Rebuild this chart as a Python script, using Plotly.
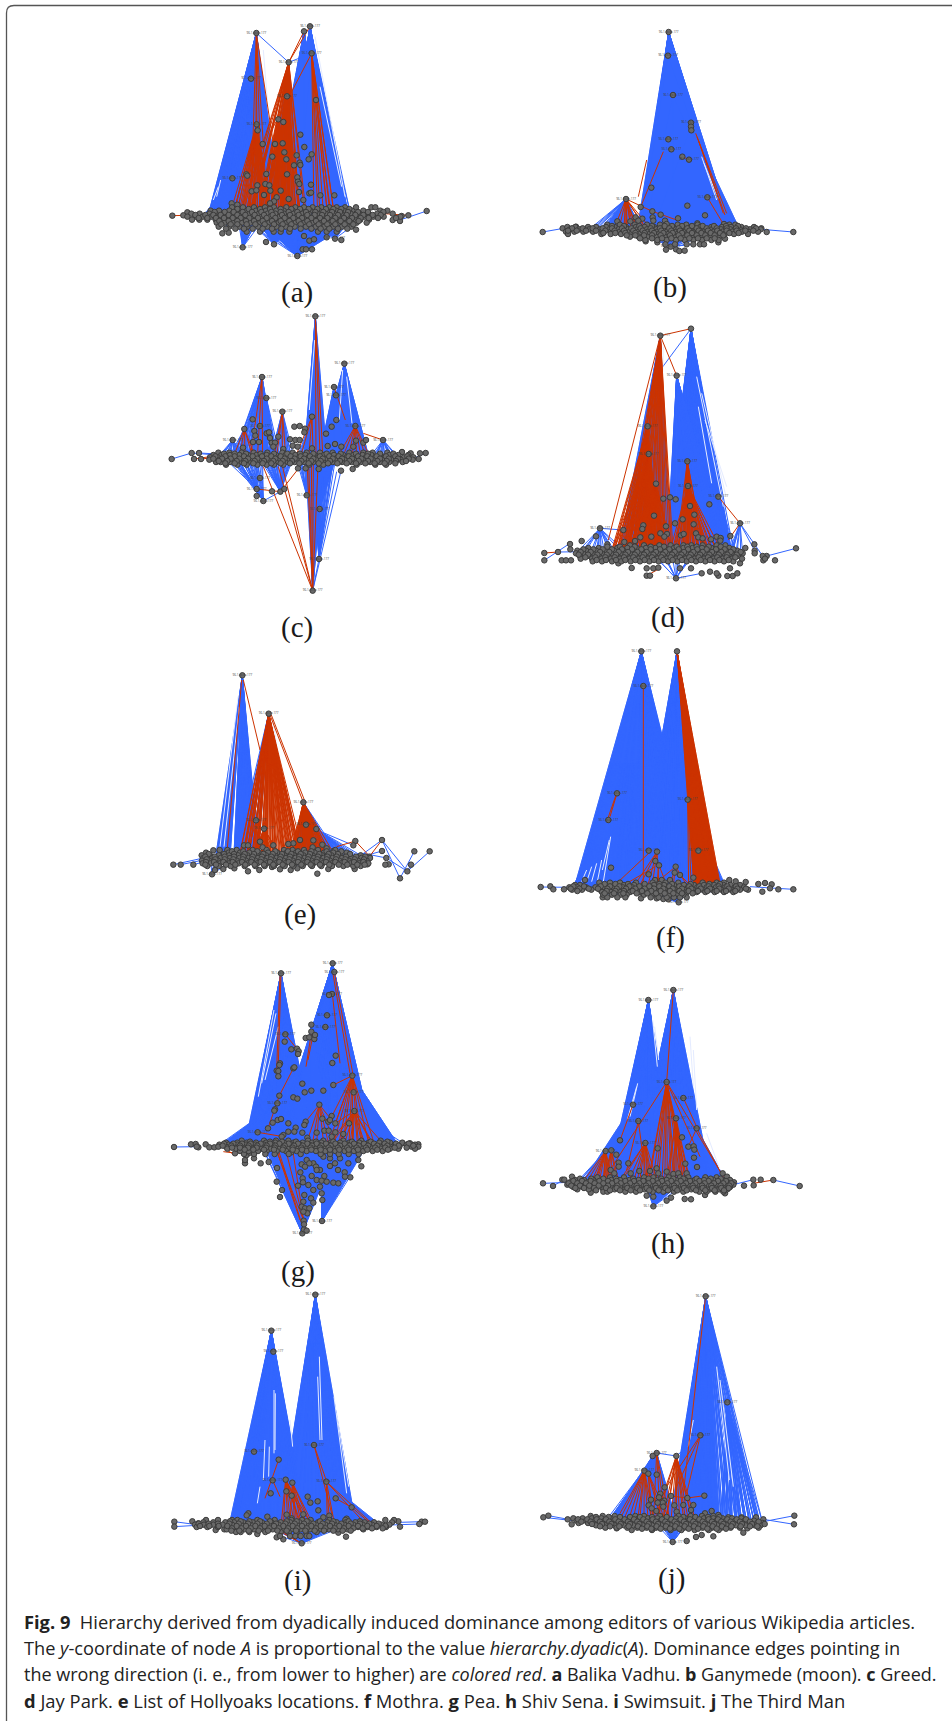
import plotly.graph_objects as go

PAGE_W, PAGE_H = 952, 1721
BLUE, RED = "#3366ff", "#cc3300"

# Fan tuples: (hub index, leftmost target x, rightmost target x, kind, step)
# kind: f = solid blue fan, b = blue lines, R = solid red fan, r = red lines

# ---------- panel a: Balika Vadhu ----------
a_hubs = [(319,99),(480,79),(462,94),(485,160),(416,187),(303,236),(411,289),(498,300),(320,373),(323,391),(385,358),(400,366),(442,768),(278,742),(372,733),(555,716),(247,535)]
a_upper = [(451,404),(338,432),(375,432),(398,430),(463,441),(403,457),(485,463),(367,470),(440,466),(409,478),(476,478),(432,496),(449,488),(451,495),(289,523),(292,527),(349,522),(411,523),(442,532),(444,545),(448,552),(346,552),(358,556),(322,556),(483,554),(305,574),(319,571),(361,572),(392,572),(447,576),(478,580),(483,578),(511,586),(553,586),(342,585),(416,597),(380,592),(372,604),(360,610),(460,600),(245,610),(262,614)]
a_outer = [(67,647),(830,633),(775,646),(112,637),(100,646),(348,726),(458,748),(468,748),(486,748),(574,720),(217,700),(236,698),(618,689),(750,663),(728,660),(755,648),(462,708),(478,722),(492,718),(530,712)]
a_row_y = [622,632,641,650,659,668,680,695,627,636,645,654,663,673,686]
a_row_x = [
 [246,279,312,345,372,409,436,462,488,514,538,560,585,618,664,676],
 [182,207,238,262,291,318,348,379,401,428,452,481,507,531,558,581,606,640,691,712],
 [124,149,178,196,223,247,271,298,327,353,376,402,431,457,476,503,527,552,574,602,628,655,682,728],
 [112,136,158,184,209,232,258,283,309,336,361,389,414,440,466,492,518,541,566,593,617,643,670,701,751],
 [126,148,172,197,219,244,269,295,322,347,372,399,425,450,478,503,529,556,579,604,631,657],
 [200,224,249,276,301,331,358,386,411,437,463,489,516,541,568,592,620,650],
 [206,238,268,292,324,352,379,407,434,468,497,523,549,576,604],
 [290,330,371,392,418,504,530,560],
 [262,296,330,360,392,424,450,476,502,528,550,574,598],
 [194,224,251,278,306,334,364,392,416,442,468,496,520,546,570,594,624,654,700],
 [136,166,190,212,236,262,286,314,342,368,396,420,446,472,494,516,540,564,590,616,640,668,692],
 [146,172,198,222,248,272,298,324,350,376,404,430,456,484,510,532,556,582,606,632,656,684,738],
 [208,236,262,288,312,338,366,392,418,446,472,498,522,548,572,598,626],
 [214,242,262,290,316,344,372,398,424,452,478,506,532,556,584,610],
 [228,256,282,308,338,366,394,420,452,484,512,538,564,592],
]
a_fans = [(0,170,392,"f",1),(1,380,600,"f",1),(2,360,560,"f",1),(3,440,600,"f",1),(7,470,590,"f",1),(4,350,440,"f",1),(12,320,560,"f",1),(13,265,325,"b",1),(14,320,420,"f",1),(15,490,610,"b",2),(16,150,260,"b",1),
 (4,270,470,"r",3),(8,240,370,"r",2),(6,340,450,"r",2),(10,330,430,"r",3),(3,490,560,"r",6),(0,300,370,"r",9)]
a_links = [(319,99,416,187,"b"),(319,99,370,430,"r"),(319,99,318,373,"r"),(462,94,416,187,"r"),(480,79,416,187,"r"),(416,187,485,160,"b"),(67,647,150,645,"r"),(830,633,750,660,"b"),(775,646,690,640,"r"),(485,160,360,400,"r"),(485,160,530,620,"r"),(498,300,540,620,"r")]
a_gaps = [(495,110,585,590),(510,260,575,560),(340,150,352,300),(205,560,190,600),(212,540,200,590)]

# ---------- panel b: Ganymede (moon) ----------
b_hubs = [(446,96),(444,167),(459,285),(513,368),(513,380),(514,391),(445,418),(454,448),(487,470),(507,479),(318,597),(452,740),(562,592)]
b_upper = [(394,563),(362,621),(502,617),(555,646),(397,634),(422,644),(398,652),(474,655),(435,662),(347,652),(367,656),(400,662),(331,664),(355,662),(292,664),(532,670),(498,676),(472,682),(440,672),(612,672)]
b_outer = [(68,696),(820,696),(128,685),(168,680),(740,696),(724,685),(438,749),(468,748),(478,753),(494,752),(595,727),(615,716),(412,727),(377,724)]
b_row_y = [674,681,688,695,702,710,720,733,678,685,692,699,706,715]
b_row_x = [
 [262,300,344,381,420,473,499,533,628,646],
 [142,166,204,228,258,284,318,348,374,402,432,459,486,512,541,574,606,633,664,702],
 [150,178,208,240,268,296,322,352,381,409,437,466,491,519,547,576,603,631,660,690,722],
 [138,163,190,219,245,272,300,329,356,384,412,441,469,495,524,551,581,608,637,666,685,714],
 [144,244,272,303,334,360,389,417,445,473,502,530,558,586,614,642,684],
 [330,356,382,408,434,462,488,515,543,570,598],
 [376,412,440,468,494,520,546,574,596],
 [436,465,500,520,540,552],
 [276,312,358,396,434,456,486,516,548,582,618,654],
 [156,188,218,248,276,306,334,362,392,420,448,476,502,530,560,590,620,648,678,708],
 [144,170,198,228,256,284,312,340,368,396,424,454,480,508,536,564,592,620,650,676,700],
 [250,286,316,346,374,402,430,458,486,516,544,572,600,628,656],
 [320,346,372,396,422,450,476,502,530,556,584,610],
 [360,396,426,454,482,508,534,560,584],
]
b_fans = [(0,350,640,"f",1),(1,360,630,"f",1),(2,370,640,"f",1),(4,400,655,"f",1),(10,205,262,"b",1),(10,262,365,"f",1),(11,390,530,"f",1),(12,560,660,"b",1),(10,280,392,"r",4)]
b_links = [(430,455,362,621,"r"),(535,420,610,640,"r"),(527,400,620,640,"r"),(531,410,615,645,"r"),(562,592,610,672,"r"),(487,470,507,479,"r"),(380,480,355,590,"r"),(318,597,397,634,"r"),(397,634,470,660,"r"),(68,696,125,686,"b"),(820,696,700,686,"b"),(318,597,322,680,"r"),(314,597,316,680,"r"),(322,597,330,670,"r")]
b_gaps = [(545,470,590,600),(552,490,596,600)]

# ---------- panel c: Greed ----------
c_hubs = [(496,49),(583,191),(552,261),(558,286),(336,231),(349,294),(397,335),(308,358),(486,350),(616,378),(699,420),(330,378),(283,387),(248,420),(488,872),(507,777),(509,627),(470,586),(340,603),(320,588),(320,567),(391,575),(403,567),(366,574),(330,534)]
c_upper = [(559,360),(545,380),(528,401),(433,380),(449,378),(465,386),(463,397),(313,393),(316,407),(350,400),(357,397),(385,410),(365,428),(375,428),(309,426),(327,426),(279,443),(420,418),(436,420),(449,420),(428,437),(443,440),(400,447),(486,445),(533,438),(555,432),(574,440),(618,422),(640,428),(648,420),(610,440),(360,414),(370,440),(573,512),(608,507),(506,507),(467,505),(444,505)]
c_outer = [(65,477),(125,459),(147,459),(132,477),(153,477),(827,459),(810,460),(782,460),(806,477),(756,456),(775,465)]
c_row_y = [458,465,472,479,486,494,461,469,476,483,490]
c_row_x = [
 [205,238,275,311,352,397,428,470,510,548,598,640,668,712],
 [190,214,240,268,294,320,350,378,407,436,466,494,522,552,580,610,638,664,692,718,745],
 [180,203,228,254,281,308,334,362,390,418,448,476,505,533,562,590,620,648,676,704,730,762,790],
 [178,199,222,248,274,300,328,356,384,412,440,470,498,527,556,584,612,640,669,697,724,752,788],
 [198,212,240,268,296,322,350,378,406,434,462,490,520,548,576,604,632,660,690,718,758],
 [228,262,290,322,350,372,400,478,520,620,676,708],
 [222,254,288,332,372,412,450,490,530,572,618,654,690,730],
 [196,226,254,282,308,336,364,392,422,452,480,510,538,566,596,624,652,680,708,736,772],
 [190,216,242,268,294,322,350,376,404,434,462,490,518,548,576,606,634,662,690,716,744,776],
 [206,232,260,286,314,342,370,398,426,454,484,512,540,570,598,626,654,682,710,738,768],
 [226,254,282,310,338,364,392,420,448,476,506,534,562,590,618,646,674,704,736],
]
c_fans = [(0,455,530,"f",1),(1,510,660,"f",1),(2,510,590,"f",1),(4,250,380,"b",1),(5,310,390,"b",1),(6,360,430,"b",1),(8,440,530,"b",1),(10,660,760,"b",2),(14,465,520,"f",1),(16,480,560,"f",1),(15,480,560,"b",1),(18,240,340,"b",2),(20,230,330,"b",2),(21,330,430,"b",1),(17,440,500,"b",1),(13,200,290,"b",2),(11,290,370,"b",1),(12,240,320,"b",2),(9,560,660,"b",3),
 (4,300,345,"r",7),(6,370,420,"r",5),(9,560,670,"r",5),(14,470,505,"r",3),(12,250,330,"r",7),(8,430,500,"r",7),(0,495,525,"r",4)]
c_links = [(395,490,488,872,"r"),(385,500,488,872,"r"),(340,500,488,872,"r"),(573,512,488,872,"b"),(560,515,488,872,"b"),(699,420,640,400,"r"),(320,567,391,575,"r"),(65,477,125,459,"b"),(125,459,200,465,"b"),(147,459,205,462,"b"),(132,477,200,467,"r"),(153,477,200,472,"r"),(827,459,790,475,"b"),(552,261,586,360,"r"),(391,575,450,500,"r"),(340,603,391,575,"b")]
c_gaps = [(578,210,568,360),(590,230,606,370),(494,120,478,330)]

# ---------- panel d: Jay Park ----------
d_hubs = [(421,77),(513,56),(470,197),(383,349),(386,432),(502,454),(504,528),(408,521),(595,560),(660,640),(240,655),(468,805)]
d_upper = [(430,566),(450,562),(467,568),(568,583),(510,588),(523,614),(402,617),(488,628),(465,640),(521,643),(438,649),(370,646),(367,657),(310,660),(228,679),(185,693),(150,702),(151,718),(703,703),(528,670),(535,682),(421,670),(441,672),(394,680),(433,680),(361,682),(345,693),(313,696),(262,703),(483,676),(491,672),(548,685),(573,688),(590,680),(602,684),(601,692),(631,678)]
d_outer = [(73,729),(73,751),(114,726),(125,751),(138,751),(153,751),(828,715),(765,751),(740,738),(730,751),(380,797),(390,797),(595,797),(590,790),(622,798),(638,798),(652,790),(545,790),(335,774),(295,760),(380,775),(400,775),(415,773),(480,775),(513,775),(630,775),(660,760),(570,785)]
d_row_y = [706,714,722,730,738,746,754,710,718,726,734,742,750]
d_row_x = [
 [330,372,418,452,490,514,548,590,616],
 [205,236,262,292,322,350,378,406,434,462,490,518,546,574,600,628,676],
 [172,198,228,254,282,310,338,366,394,422,450,478,506,534,562,590,618,652,704],
 [168,190,218,246,274,302,330,358,386,414,442,470,498,526,554,582,610,636,668,704],
 [180,208,236,264,292,320,348,376,404,432,460,488,516,544,572,600,628,654,728],
 [182,216,244,272,300,328,356,384,412,440,468,496,524,552,580,608,636,666,735],
 [218,246,276,304,332,360,388,416,444,472,500,528,556,584,612,640],
 [262,300,344,392,432,470,502,530,566,602],
 [190,220,248,276,306,336,364,392,420,448,476,504,532,560,588,614,640],
 [182,212,240,268,296,324,352,380,408,436,464,492,520,548,576,604,632,662],
 [176,204,232,260,288,316,344,372,400,428,456,484,512,540,568,596,622,650],
 [196,226,256,284,312,340,368,396,424,452,480,508,536,564,592,620,646],
 [230,258,288,316,346,374,402,430,458,486,514,542,570,598,626],
]
d_fans = [(1,430,640,"f",1),(2,440,625,"f",1),(0,300,450,"f",1),(8,570,650,"b",2),(9,620,745,"b",2),(10,130,310,"b",3),(11,400,540,"b",5),(5,560,620,"b",1),
 (0,310,460,"r",2),(3,270,420,"r",2),(4,270,440,"r",2),(7,310,460,"r",2),(5,470,560,"r",3),(6,450,600,"r",2)]
d_links = [(421,77,513,56,"r"),(421,77,470,197,"r"),(421,77,265,690,"r"),(513,56,421,180,"b"),(73,729,114,726,"r"),(114,726,200,725,"b"),(73,751,150,700,"b"),(828,715,740,738,"b"),(595,560,660,640,"r"),(660,640,625,690,"r"),(240,655,310,660,"b"),(468,805,545,790,"b"),(380,797,420,775,"r"),(502,454,504,528,"r")]
d_gaps = [(530,200,610,590),(545,250,618,560),(555,330,620,530),(430,110,425,300),(535,290,575,520)]

# ---------- panel e: List of Hollyoaks locations ----------
e_hubs = [(277,76),(356,191),(460,457),(318,511),(342,536),(468,524),(499,537),(186,673)]
e_upper = [(330,575),(282,586),(294,586),(370,586),(190,601),(209,600),(338,592),(450,570),(490,571),(517,584),(430,580),(415,582),(488,592),(530,595),(550,603),(616,573),(610,586),(696,570),(696,603),(793,604),(839,604),(709,624),(783,644),(772,664),(750,685),(716,643),(706,644),(658,620)]
e_outer = [(70,644),(92,644),(130,644),(195,660),(220,657),(294,664),(422,660),(502,671),(535,657),(614,657),(652,643),(253,655),(328,660),(366,651),(390,658),(442,655)]
e_row_y = [600,608,616,624,632,640,648,604,612,620,628,636,644]
e_row_x = [
 [232,260,308,350,402,428,462,504,556],
 [168,236,270,298,326,354,382,410,438,466,494,522,550,590],
 [155,180,206,238,264,292,320,348,376,404,432,460,488,516,544,572,600,632],
 [160,186,212,240,268,296,324,352,380,408,436,464,492,520,548,576,604,634,660],
 [156,178,204,232,260,288,316,344,372,400,428,456,484,512,540,568,596,624,650],
 [158,182,210,238,266,294,322,350,378,406,434,462,490,518,546,574,602,628,655],
 [172,206,242,284,316,344,372,404,430,458,486,514,546,580,610,632],
 [246,280,322,376,414,444,484,530,574],
 [176,222,252,284,312,340,368,396,424,452,480,508,536,564,600],
 [166,194,224,252,280,308,336,364,392,420,448,476,504,532,560,588,618,646],
 [170,196,224,250,278,306,334,362,390,418,446,474,502,530,558,586,614,642],
 [168,192,220,248,276,304,332,360,388,416,444,472,500,528,556,584,612,640],
 [166,198,228,256,286,314,342,370,398,426,454,482,510,538,566,592,622,644],
]
e_fans = [(0,195,240,"f",1),(0,252,330,"f",1),(1,260,330,"b",2),(2,430,560,"f",1),(6,500,640,"b",1),(7,180,250,"b",4),
 (1,268,460,"r",1),(2,420,550,"r",1),(5,440,530,"r",3),(4,300,400,"r",3),(3,290,360,"r",5)]
e_links = [(275,90,232,595,"r"),(280,90,330,300,"r"),(360,195,460,457,"r"),(364,195,465,455,"r"),(696,570,750,685,"b"),(696,570,772,664,"b"),(709,624,772,664,"b"),(793,604,750,685,"b"),(839,604,772,664,"b"),(783,644,772,664,"b"),(616,573,560,590,"r"),(616,573,660,620,"r"),(696,570,658,620,"r"),(696,603,600,630,"b"),(696,570,600,640,"b"),(70,644,160,624,"b"),(92,644,170,628,"b"),(130,644,160,636,"b"),(610,586,520,548,"b"),(709,624,640,610,"b")]
e_gaps = [(264,140,210,590),(268,170,222,590),(362,210,430,540),(368,205,420,560)]

# ---------- panel f: Mothra ----------
f_hubs = [(364,34),(471,34),(370,138),(291,460),(265,540),(503,479),(535,632),(386,632),(411,635),(476,787)]
f_upper = [(273,683),(195,720),(406,663),(417,676),(467,680),(464,698),(480,705),(386,703),(405,720),(425,720),(520,713),(450,720),(628,720),(647,724),(677,726)]
f_outer = [(62,741),(91,739),(100,748),(132,748),(820,748),(775,748),(755,733),(735,729),(715,732),(727,755),(750,745),(248,772),(363,775),(410,775),(445,778),(430,777),(500,772)]
f_row_y = [728,735,742,749,756,764,772,732,739,746,753,760]
f_row_x = [
 [238,270,300,348,398,436,475,548,590,612],
 [165,180,256,284,312,342,372,402,432,462,492,522,552,582,610,632,660],
 [148,172,198,226,252,280,308,336,364,392,420,448,476,504,532,560,588,616,644,672],
 [156,186,214,240,268,296,324,352,380,408,436,464,492,520,548,576,604,632,660,684],
 [246,272,300,330,360,390,418,446,474,502,530,556,584,612,640],
 [250,276,302,320,372,396,420,448,472,490],
 [262,292,316,392,416,440,462,480],
 [254,286,324,374,418,456,512,568,600],
 [160,192,242,270,298,328,358,388,418,448,478,508,538,566,596,622,648],
 [152,178,206,234,262,290,318,346,374,402,430,458,486,514,542,570,598,626,652,678],
 [172,260,286,312,338,366,394,422,450,478,506,534,562,590,618,646],
 [254,282,310,350,382,408,434,460,486,518],
]
f_fans = [(0,165,541,"f",1),(1,344,585,"f",1),(3,160,290,"f",1),(4,165,280,"b",1),(5,500,620,"f",1),(6,540,630,"b",1),(9,400,510,"f",1),
 (1,521,601,"R",1),(5,505,590,"r",3),(6,540,600,"r",3),(8,330,420,"r",8)]
f_links = [(370,138,370,735,"r"),(291,460,270,530,"r"),(288,465,262,540,"r"),(386,640,290,730,"r"),(406,680,320,730,"r"),(467,680,400,735,"r"),(467,680,450,735,"r"),(467,680,500,735,"r"),(417,676,410,735,"r"),(417,676,440,735,"r"),(464,698,460,740,"r"),(62,741,150,742,"b"),(820,748,690,740,"b"),(273,683,220,735,"b"),(480,705,510,735,"r")]
f_gaps = [(272,590,250,725),(268,600,247,690),(200,690,185,725),(215,680,200,725),(230,670,215,725),(245,660,232,725)]

# ---------- panel g: Pea ----------
g_hubs = [(393,70),(548,40),(553,66),(546,132),(537,135),(531,196),(526,231),(484,224),(484,245),(406,253),(607,377),(613,483),(611,427),(508,464),(457,850),(462,838),(470,842),(516,813),(461,812),(462,823),(382,460),(323,547)]
g_upper = [(404,275),(424,298),(441,296),(446,304),(444,312),(467,264),(478,262),(493,267),(495,255),(557,317),(547,339),(390,340),(388,345),(380,362),(385,363),(385,379),(430,355),(433,352),(457,401),(464,427),(484,422),(520,422),(550,405),(430,442),(442,446),(388,437),(375,478),(373,482),(383,510),(393,507),(368,518),(415,520),(354,535),(467,515),(463,525),(517,506),(545,498),(535,515),(540,510),(556,520),(597,520),(457,548),(437,533),(433,545),(415,545),(400,555),(395,560),(500,548),(523,542),(536,542),(556,547),(580,552),(545,560),(472,563),(255,610),(285,640),(285,630),(312,625),(332,640),(356,636),(381,654),(380,695),(396,720),(390,741),(424,607),(455,643),(451,667),(458,685),(459,697),(444,707),(470,630),(490,640),(498,650),(510,660),(485,678),(500,690),(515,692),(523,678),(530,695),(550,698),(565,700),(584,667),(564,660),(601,682),(634,649),(595,640),(625,630),(540,648),(555,640),(475,705),(510,710),(463,735),(490,720),(483,745),(490,758),(515,730),(517,750),(460,755),(455,770),(465,775),(478,775),(472,790),(460,785),(585,680),(500,660),(465,650),(478,640),(520,620),(540,625),(570,625),(290,615),(300,608)]
g_outer = [(72,591),(123,583),(137,582),(167,583),(805,583),(780,580),(757,580),(145,592),(178,592),(193,592)]
g_row_y = [572,578,584,590,596,603,612,575,581,587,593,599]
g_row_x = [
 [275,342,378,415,474,520,580,634,692],
 [228,262,290,318,348,376,402,430,458,486,514,542,570,598,628,656,688,720,757],
 [208,236,262,288,316,342,368,396,424,450,478,506,534,562,590,618,646,674,702,735,770,795],
 [140,205,228,252,278,304,330,358,384,410,438,466,492,520,548,576,604,632,660,690,720,748,785,805],
 [232,258,282,308,336,362,388,414,442,468,496,524,552,580,608,636,664,692,720,745,795],
 [270,296,324,350,380,408,440,470,498,526,556,584,612,640,668,698],
 [282,312,346,374,416,452,512,540,566,596,626],
 [300,360,396,438,498,550,606,662,712],
 [222,250,276,302,332,360,388,416,444,472,500,528,556,584,612,642,672,704,738,776],
 [218,244,270,296,322,350,376,404,432,458,486,514,542,570,598,626,654,682,712,746,790],
 [246,270,294,320,348,374,400,428,454,482,510,536,564,592,620,648,676,706,734,770],
 [284,310,342,372,398,428,456,484,512,540,568,596,624,652,682,714],
]
g_fans = [(0,280,497,"f",1),(1,372,671,"f",1),(2,380,680,"f",1),(10,600,755,"f",1),(11,620,760,"b",1),(20,205,390,"f",1),(21,225,340,"b",1),(14,340,560,"f",1),(17,510,640,"f",1),(7,420,540,"f",1),
 (10,530,680,"r",6),(11,530,700,"r",5),(13,460,560,"r",7),(18,380,450,"r",9)]
g_links = [(393,70,385,340,"r"),(390,72,380,360,"r"),(553,66,610,380,"r"),(548,66,600,370,"r"),(548,140,570,340,"r"),(607,377,550,405,"r"),(607,377,556,520,"r"),(607,377,540,510,"r"),(607,377,611,427,"r"),(430,355,388,437,"r"),(388,437,354,535,"r"),(484,250,468,350,"r"),(490,250,474,330,"r"),(380,600,450,810,"r"),(385,600,458,830,"r"),(406,253,440,296,"r"),(613,483,556,520,"r"),(613,483,600,530,"r"),(508,464,467,515,"r"),(508,464,545,510,"r"),(323,547,400,560,"r"),(72,591,140,590,"b"),(220,605,260,610,"r"),(230,600,250,612,"r"),(516,813,600,680,"b"),(516,813,575,695,"b")]
g_gaps = [(372,180,325,440),(378,190,335,400),(385,230,345,390)]

# ---------- panel h: Shiv Sena ----------
h_hubs = [(460,60),(385,90),(440,336),(490,384),(339,404),(468,445),(355,453),(530,475),(376,519),(257,543),(274,541),(400,709)]
h_upper = [(300,511),(486,502),(505,530),(521,529),(523,539),(522,563),(413,535),(289,554),(496,581),(325,580),(296,578),(296,590),(531,591),(272,600),(358,603),(390,603),(410,595),(415,610),(440,605),(608,610),(621,620),(156,620),(283,610),(332,610),(460,612),(475,610),(500,610)]
h_outer = [(69,640),(99,648),(127,629),(133,629),(839,648),(760,630),(722,629),(700,629),(701,646),(672,647),(440,692),(453,683),(513,688),(494,687),(555,675),(615,670),(212,668),(380,677),(400,680)]
h_row_y = [622,630,637,644,651,658,665,626,633,640,647,654,661]
h_row_x = [
 [232,270,312,372,400,446,480,505,556,590],
 [165,192,220,246,274,300,328,356,384,412,440,468,496,524,552,580,606,630],
 [150,176,202,230,258,286,314,342,370,398,426,454,482,510,538,566,594,622,642],
 [142,168,196,224,252,280,308,336,364,392,420,448,476,504,532,560,588,616,640],
 [160,188,216,244,272,300,328,356,384,412,440,468,496,524,552,580,608,630],
 [172,206,250,284,316,346,374,402,430,458,486,514,542,570,598,622],
 [250,262,316,348,398,430,462,490,538,560,586,610],
 [180,214,250,288,340,386,424,460,490,530,572,602],
 [160,186,212,238,264,290,316,342,370,398,426,454,482,510,538,566,594,618],
 [146,172,198,224,250,276,302,330,358,386,414,442,470,498,526,554,582,610,634],
 [154,180,208,236,264,292,320,350,378,406,434,462,490,518,546,574,602,628],
 [166,192,222,258,290,322,352,380,408,436,464,492,520,548,576,604,626],
 [228,270,300,332,360,388,416,444,472,500,528,556,584,612],
]
h_fans = [(0,336,572,"f",1),(1,264,477,"f",1),(4,190,340,"f",1),(9,170,300,"b",1),(7,530,620,"f",1),(11,380,470,"f",1),
 (2,380,520,"r",4),(8,300,420,"r",5),(9,190,280,"r",3),(10,240,300,"r",5),(5,440,510,"r",4)]
h_links = [(460,60,440,336,"r"),(440,336,270,600,"r"),(440,336,540,560,"r"),(440,336,610,620,"r"),(490,384,530,470,"r"),(355,453,320,600,"r"),(355,453,378,625,"r"),(530,475,505,530,"r"),(530,475,610,622,"r"),(760,630,700,640,"r"),(760,630,839,648,"b"),(69,640,150,637,"b"),(99,648,130,630,"b"),(700,629,640,644,"b"),(376,519,380,625,"r"),(339,404,300,511,"r")]
h_gaps = [(398,150,412,290),(404,170,416,270),(350,350,322,450),(353,340,330,440),(520,240,530,420),(510,200,520,350),(560,490,600,600)]

# ---------- panel i: Swimsuit ----------
i_hubs = [(496,44),(364,152),(370,215),(492,495),(312,515),(386,539),(368,601),(407,599),(427,608),(529,605),(455,790)]
i_upper = [(409,634),(425,647),(362,640),(473,650),(481,668),(503,664),(557,655),(505,691),(605,682),(295,700),(290,706),(460,703),(410,704),(352,710),(425,715),(520,712),(538,707),(590,716)]
i_outer = [(73,725),(73,740),(127,724),(145,730),(815,725),(825,725),(808,732),(750,740),(745,724),(588,770),(322,762),(380,772),(400,778),(565,758),(197,750),(223,748)]
i_row_y = [720,727,734,741,748,756,768,724,731,738,745,752]
i_row_x = [
 [168,204,246,262,322,374,424,456,482,538,586,706,732],
 [160,190,226,252,280,308,336,364,392,420,448,476,504,532,560,588,616,644,672,726],
 [135,162,190,218,246,274,302,330,358,386,414,442,470,498,526,554,582,610,638,666,694,718],
 [140,172,204,232,260,288,316,344,372,400,428,456,484,512,540,568,596,624,652,680,708],
 [230,256,284,312,340,368,396,424,452,480,508,536,564,592,640],
 [258,272,298,346,392,416,440,468,500],
 [390,420,436,452,470,478],
 [240,272,298,330,360,410,440,470,510,550,596,630],
 [146,176,204,238,266,294,322,350,378,406,434,462,490,518,546,574,602,630,658,686],
 [150,178,206,232,260,288,316,344,372,400,428,456,484,512,540,568,596,624,652,680,706],
 [246,274,302,330,358,386,414,442,470,498,526,554,582,610,638,666,698],
 [244,268,296,326,354,382,410,438,466,494,522,550,578,602],
]
i_fans = [(0,385,616,"f",1),(1,239,473,"f",1),(2,270,470,"b",2),(9,530,690,"f",1),(10,380,560,"f",1),(4,235,340,"b",2),
 (7,390,500,"r",5),(8,420,510,"r",6),(9,530,560,"r",4)]
i_links = [(529,605,660,725,"r"),(529,605,640,725,"r"),(386,539,345,655,"r"),(492,495,545,700,"r"),(492,495,530,605,"r"),(605,682,655,725,"r"),(368,601,390,650,"r"),(557,655,605,682,"r"),(73,725,140,734,"b"),(73,740,140,736,"b"),(127,724,160,732,"b"),(815,725,720,728,"b"),(808,732,720,735,"b"),(455,790,540,750,"b"),(455,790,390,750,"r"),(445,785,400,760,"r")]
i_gaps = [(372,330,372,520),(376,340,375,510),(508,230,516,480),(503,290,510,480),(345,480,340,600),(358,500,356,590),(552,350,590,640),(560,400,596,620),(420,420,428,500),(330,620,322,670)]

# ---------- panel j: The Third Man ----------
j_hubs = [(557,49),(622,367),(541,466),(410,519),(398,528),(469,528),(373,572),(385,581),(410,584),(458,786)]
j_upper = [(434,622),(421,641),(417,652),(453,648),(502,654),(553,647),(393,659),(433,662),(428,668),(386,676),(413,668),(409,693),(395,685),(463,676),(490,675),(520,675),(470,695),(430,680),(513,690),(575,693),(708,712),(730,718),(665,712),(625,712),(595,705),(555,700)]
j_outer = [(70,712),(85,707),(823,707),(822,733),(143,718),(155,733),(500,783),(545,765),(528,771),(580,769),(670,758),(682,745),(335,750),(290,745),(255,740)]
j_row_y = [708,715,722,729,736,743,750,711,718,725,732,739,746]
j_row_x = [
 [212,248,284,346,372,420,476,512,546,580],
 [160,188,216,244,272,300,328,356,384,412,440,468,496,524,552,580,608,636,664],
 [170,198,226,254,282,310,338,366,394,422,450,478,506,534,562,590,618,646,674,702],
 [176,204,232,260,288,316,344,372,400,428,456,484,512,540,568,596,624,652,680,712,728],
 [228,256,284,312,340,368,396,424,452,480,508,536,564,592,620,648,676,704,722],
 [256,290,322,352,380,408,436,464,492,520,548,576,604,632,660,716],
 [396,452,484,524,566,596],
 [228,266,300,330,360,396,440,490,526,564,598],
 [174,202,230,258,286,314,342,370,398,426,454,482,510,538,566,594,622,650,678],
 [184,212,240,268,296,324,352,380,408,436,464,492,520,548,576,604,632,660,690,716],
 [216,246,274,302,330,358,386,414,442,470,498,526,554,582,610,638,666,696,734],
 [240,270,298,326,354,382,410,438,466,494,522,550,578,606,634,662,690,712],
 [366,394,422,450,478,506,534,562,590,618],
]
j_fans = [(0,449,600,"f",1),(0,600,730,"b",1),(1,600,730,"b",1),(3,260,470,"f",1),(4,270,440,"f",1),(2,480,600,"b",2),(9,420,500,"b",1),
 (5,400,540,"r",4),(3,400,450,"r",6),(6,295,420,"r",5),(7,390,450,"r",6)]
j_links = [(541,466,440,620,"r"),(541,466,500,640,"r"),(541,466,470,620,"r"),(557,49,490,640,"r"),(502,654,553,647,"r"),(453,648,502,654,"r"),(823,707,730,725,"b"),(822,733,730,718,"b"),(85,707,145,718,"b"),(70,712,160,722,"b"),(410,519,469,528,"b"),(469,528,490,510,"b"),(373,572,300,700,"r")]
j_gaps = [(590,260,628,600),(600,300,640,620),(520,420,505,500)]

HUB_LABEL = "96.1.xx.xx.177"

PANELS = [
 ("a",(150,0,320,310),a_hubs,a_upper,a_outer,a_row_y,a_row_x,a_fans,a_links,a_gaps),
 ("b",(520,0,300,310),b_hubs,b_upper,b_outer,b_row_y,b_row_x,b_fans,b_links,b_gaps),
 ("c",(150,300,320,340),c_hubs,c_upper,c_outer,c_row_y,c_row_x,c_fans,c_links,c_gaps),
 ("d",(520,310,300,330),d_hubs,d_upper,d_outer,d_row_y,d_row_x,d_fans,d_links,d_gaps),
 ("e",(150,650,320,300),e_hubs,e_upper,e_outer,e_row_y,e_row_x,e_fans,e_links,e_gaps),
 ("f",(520,640,300,310),f_hubs,f_upper,f_outer,f_row_y,f_row_x,f_fans,f_links,f_gaps),
 ("g",(150,950,320,320),g_hubs,g_upper,g_outer,g_row_y,g_row_x,g_fans,g_links,g_gaps),
 ("h",(520,970,300,300),h_hubs,h_upper,h_outer,h_row_y,h_row_x,h_fans,h_links,h_gaps),
 ("i",(150,1280,320,310),i_hubs,i_upper,i_outer,i_row_y,i_row_x,i_fans,i_links,i_gaps),
 ("j",(520,1280,300,310),j_hubs,j_upper,j_outer,j_row_y,j_row_x,j_fans,j_links,j_gaps),
]

panel_captions = ["(a)","(b)","(c)","(d)","(e)","(f)","(g)","(h)","(i)","(j)"]
caption_x = [297,670,297,668,300,670,298,668,297,671]
caption_y = [292,287,627,617,914,937,1271,1243,1580,1578]

fig_text = [
 "<b>Fig. 9</b>  Hierarchy derived from dyadically induced dominance among editors of various Wikipedia articles.",
 "The <i>y</i>-coordinate of node <i>A</i> is proportional to the value <i>hierarchy.dyadic</i>(<i>A</i>). Dominance edges pointing in",
 "the wrong direction (i. e., from lower to higher) are <i>colored red</i>. <b>a</b> Balika Vadhu. <b>b</b> Ganymede (moon). <b>c</b> Greed.",
 "<b>d</b> Jay Park. <b>e</b> List of Hollyoaks locations. <b>f</b> Mothra. <b>g</b> Pea. <b>h</b> Shiv Sena. <b>i</b> Swimsuit. <b>j</b> The Third Man",
]
fig_text_y = [1621,1648,1674,1700]
fig_text_size = [18.3,18.2,18.0,18.4]

fig = go.Figure()
layout = dict(
    width=PAGE_W, height=PAGE_H, margin=dict(l=0,r=0,t=0,b=0),
    paper_bgcolor="white", plot_bgcolor="rgba(0,0,0,0)", showlegend=False,
    xaxis=dict(domain=[0,1],range=[0,PAGE_W],visible=False,fixedrange=True),
    yaxis=dict(domain=[0,1],range=[PAGE_H,0],visible=False,fixedrange=True),
)

def fan_targets(row_y, row_x, lo, hi):
    return sorted((x, y) for y, row in zip(row_y, row_x) for x in row if lo <= x <= hi)

def edge_xy(hubs, row_y, row_x, fans, links, kinds, key):
    xs, ys = [], []
    for hub, lo, hi, kind, step in fans:
        if kind not in kinds:
            continue
        hx, hy = hubs[hub]
        for x, y in fan_targets(row_y, row_x, lo, hi)[::step]:
            xs += [hx, x, None]
            ys += [hy, y, None]
    for x1, y1, x2, y2, c in links:
        if c == key:
            xs += [x1, x2, None]
            ys += [y1, y2, None]
    return xs, ys

def add_solid(hubs, row_y, row_x, fans, kind, colour, ax):
    for hub, lo, hi, k, step in fans:
        if k != kind:
            continue
        t = fan_targets(row_y, row_x, lo, hi)
        hx, hy = hubs[hub]
        fig.add_trace(go.Scatter(x=[hx,t[0][0],t[-1][0],hx],y=[hy,t[0][1],t[-1][1],hy],mode="lines",
            line=dict(color=colour,width=0.5),fill="toself",fillcolor=colour,hoverinfo="skip",**ax))

for n, (name, (cx, cy, cw, ch), hubs, upper, outer, row_y, row_x, fans, links, gaps) in enumerate(PANELS, start=2):
    layout[f"xaxis{n}"] = dict(domain=[cx/PAGE_W,(cx+cw)/PAGE_W],range=[0,cw*3],visible=False,fixedrange=True,anchor=f"y{n}")
    layout[f"yaxis{n}"] = dict(domain=[1-(cy+ch)/PAGE_H,1-cy/PAGE_H],range=[ch*3,0],visible=False,fixedrange=True,anchor=f"x{n}")
    ax = dict(xaxis=f"x{n}", yaxis=f"y{n}")
    add_solid(hubs,row_y,row_x,fans,"f",BLUE,ax)
    ex, ey = edge_xy(hubs,row_y,row_x,fans,links,("f","b"),"b")
    fig.add_trace(go.Scatter(x=ex,y=ey,mode="lines",line=dict(color=BLUE,width=1),hoverinfo="skip",**ax))
    gx, gy = [], []
    for x1, y1, x2, y2 in gaps:
        gx += [x1, x2, None]
        gy += [y1, y2, None]
    fig.add_trace(go.Scatter(x=gx,y=gy,mode="lines",line=dict(color="#e4ebff",width=1),hoverinfo="skip",**ax))
    add_solid(hubs,row_y,row_x,fans,"R",RED,ax)
    ex, ey = edge_xy(hubs,row_y,row_x,fans,links,("R","r"),"r")
    fig.add_trace(go.Scatter(x=ex,y=ey,mode="lines",line=dict(color=RED,width=1),hoverinfo="skip",**ax))
    nx = [p[0] for p in hubs+upper+outer] + [x for row in row_x for x in row]
    ny = [p[1] for p in hubs+upper+outer] + [y for y,row in zip(row_y,row_x) for _ in row]
    fig.add_trace(go.Scatter(x=nx,y=ny,mode="markers",
        marker=dict(size=5.5,color="#696969",line=dict(color="#3c3c3c",width=1)),hoverinfo="skip",**ax))
    labelled = []
    for hx, hy in hubs:
        if all(abs(hx-px) > 110 or abs(hy-py) > 24 for px, py in labelled):
            labelled.append((hx, hy))
    fig.add_trace(go.Scatter(x=[p[0] for p in labelled],y=[p[1] for p in labelled],mode="text",
        text=[HUB_LABEL]*len(labelled),textfont=dict(size=3,color="#444444",family="Open Sans"),hoverinfo="skip",**ax))

annotations = []
for t, x, y in zip(panel_captions, caption_x, caption_y):
    annotations.append(dict(text=t,x=x,y=y,xref="x",yref="y",showarrow=False,xanchor="center",yanchor="middle",
        font=dict(family="Liberation Serif",size=29,color="#1a1a1a")))
for t, y, s in zip(fig_text, fig_text_y, fig_text_size):
    annotations.append(dict(text=t,x=22,y=y,xref="x",yref="y",showarrow=False,xanchor="left",yanchor="middle",
        font=dict(family="Open Sans",size=s,color="#222222")))
layout["annotations"] = annotations
layout["shapes"] = [dict(type="path",xref="x",yref="y",path=f"M 6.5,{PAGE_H} L 6.5,13 Q 6.5,5.5 14,5.5 L {PAGE_W},5.5",
    line=dict(color="#555555",width=1.3))]
fig.update_layout(**layout)
fig.write_html("out.html", config={"displayModeBar": False},
               post_script="document.body.style.margin='0';document.body.style.overflow='hidden';")
